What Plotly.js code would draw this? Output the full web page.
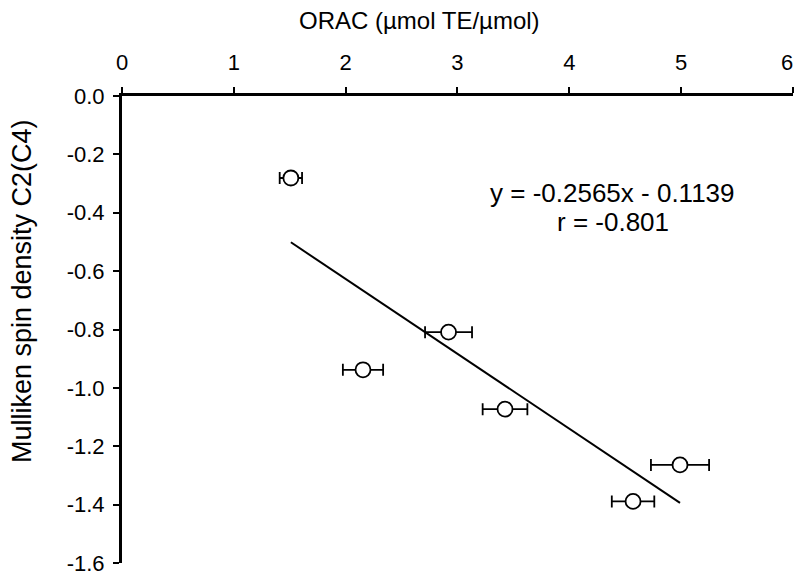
<!DOCTYPE html>
<html>
<head>
<meta charset="utf-8">
<script src="https://cdn.plot.ly/plotly-3.0.1.min.js"></script>
<style>html,body{margin:0;padding:0;background:#fff;}#chart{width:796px;height:575px;}</style>
</head>
<body>
<div id="chart"></div>
<script>
// Data
const oracValues = [1.51, 2.92, 2.155, 3.425, 4.99, 4.57];
const oracErrors = [0.10, 0.21, 0.18, 0.20, 0.26, 0.19];
const spinDensity = [-0.281, -0.809, -0.938, -1.073, -1.264, -1.389];
const fitSlope = -0.2565;
const fitIntercept = -0.1139;
const fitText = "y = -0.2565x - 0.1139";
const rText = "r = -0.801";
const xTitle = "ORAC (µmol TE/µmol)";
const yTitle = "Mulliken spin density C2(C4)";
const xTicks = [0, 1, 2, 3, 4, 5, 6];
const yTicks = [0, -0.2, -0.4, -0.6, -0.8, -1.0, -1.2, -1.4, -1.6];

const xMin = Math.min(...oracValues), xMax = Math.max(...oracValues);
const fitX = [xMin, xMax];
const fitY = fitX.map(v => fitSlope * v + fitIntercept);

const font = "Liberation Sans, Arial, sans-serif";
const lastTick = xTicks[xTicks.length - 1];

const traces = [
  {
    x: fitX, y: fitY, mode: 'lines', type: 'scatter',
    line: {color: '#000', width: 2}, hoverinfo: 'skip', showlegend: false
  },
  {
    x: oracValues, y: spinDensity, mode: 'markers', type: 'scatter',
    marker: {symbol: 'circle', size: 15, color: '#fff', line: {color: '#000', width: 1.8}},
    error_x: {type: 'data', array: oracErrors, visible: true, color: '#000', thickness: 1.8, width: 6},
    showlegend: false
  }
];

const layout = {
  width: 796, height: 575,
  paper_bgcolor: '#fff', plot_bgcolor: '#fff',
  margin: {l: 122, r: 3, t: 96, b: 12},
  font: {family: font, color: '#000', size: 22},
  showlegend: false,
  xaxis: {
    side: 'top', range: [-0.0002, 6.0004], tickvals: xTicks,
    ticktext: xTicks.map(v => v === lastTick ? '' : String(v)),
    ticklabeloverflow: 'allow',
    showline: true, linecolor: '#000', linewidth: 3, mirror: false,
    ticks: 'outside', ticklen: 6, tickwidth: 2, tickcolor: '#000',
    ticklabelstandoff: 8,
    showgrid: false, zeroline: false,
    tickfont: {family: font, size: 22, color: '#000'}
  },
  yaxis: {
    range: [-1.6, 0], tickvals: yTicks, ticktext: yTicks.map(v => v.toFixed(1)),
    ticklabeloverflow: 'allow',
    showline: true, linecolor: '#000', linewidth: 3,
    ticks: 'outside', ticklen: 6, tickwidth: 2, tickcolor: '#000',
    ticklabelstandoff: 4,
    showgrid: false, zeroline: false,
    tickfont: {family: font, size: 22, color: '#000'}
  },
  annotations: [
    {x: 4.39, y: -0.332, xref: 'x', yref: 'y', text: fitText, showarrow: false,
     xanchor: 'center', yanchor: 'middle', font: {family: font, size: 26, color: '#000'}},
    {x: 4.39, y: -0.432, xref: 'x', yref: 'y', text: rText, showarrow: false,
     xanchor: 'center', yanchor: 'middle', font: {family: font, size: 26, color: '#000'}},
    {x: 0.444, y: 1.1627, xref: 'paper', yref: 'paper', text: xTitle, showarrow: false,
     xanchor: 'center', yanchor: 'middle', font: {family: font, size: 24, color: '#000'}},
    {x: -0.149, y: 0.5824, xref: 'paper', yref: 'paper', text: yTitle, showarrow: false, textangle: -90,
     xanchor: 'center', yanchor: 'middle', font: {family: font, size: 27, color: '#000'}},
    {x: 1.0, y: 1.0728, xref: 'paper', yref: 'paper', text: String(lastTick), showarrow: false,
     xanchor: 'right', yanchor: 'middle', xshift: 2, font: {family: font, size: 22, color: '#000'}}
  ]
};

Plotly.newPlot('chart', traces, layout, {displayModeBar: false, staticPlot: true});
</script>
</body>
</html>
